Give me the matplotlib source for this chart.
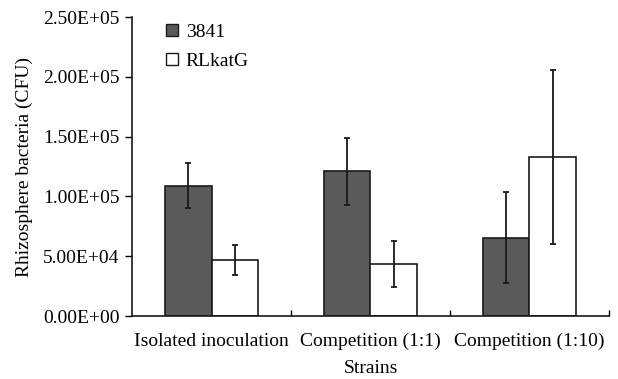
import matplotlib as mpl
from matplotlib import pyplot as plt
from matplotlib.patches import Patch
import numpy as np

groups = ['Isolated inoculation', 'Competition (1:1)', 'Competition (1:10)']
series = ['3841', 'RLkatG']
vals_3841 = [109000, 121000, 65500]
err_3841 = [19000, 28000, 38000]
vals_katg = [47000, 43500, 133000]
err_katg = [12500, 19500, 73000]
yticks = [0, 50000, 100000, 150000, 200000, 250000]
ytick_labels = ['0.00E+00', '5.00E+04', '1.00E+05', '1.50E+05', '2.00E+05', '2.50E+05']

plt.rcParams['font.family'] = ['Liberation Serif', 'DejaVu Serif']
plt.rcParams['font.size'] = 14

fig = plt.figure(figsize=(6.18, 3.79), dpi=100)
ax = fig.add_axes([0.2136, 0.1662, 0.7718, 0.7889])

x = np.arange(len(groups))
w = 0.29
ekw = dict(ecolor='#1a1a1a', elinewidth=1.3, capsize=2.3, capthick=1.3)
ax.bar(x - w / 2, vals_3841, w, color='#5a5a5a', edgecolor='#1a1a1a', linewidth=1.2,
       yerr=err_3841, error_kw=ekw, zorder=2)
ax.bar(x + w / 2, vals_katg, w, color='white', edgecolor='#1a1a1a', linewidth=1.2,
       yerr=err_katg, error_kw=ekw, zorder=2)

ax.set_xlim(-0.5, 2.5)
ax.set_ylim(0, 250000)
ax.set_yticks(yticks)
ax.set_yticklabels(ytick_labels)
ax.set_xticks(x)
ax.set_xticklabels(groups)
ax.set_xticks([0.5, 1.5, 2.5], minor=True)
ax.tick_params(axis='x', which='major', length=0, pad=12)
ax.tick_params(axis='x', which='minor', direction='in', length=4, width=1)
ax.tick_params(axis='y', direction='out', length=5, width=1, pad=4)

for s in ['top', 'right']:
    ax.spines[s].set_visible(False)
for s in ['left', 'bottom']:
    ax.spines[s].set_linewidth(1.2)
    ax.spines[s].set_color('#1a1a1a')

ax.set_xlabel('Strains', labelpad=7)
ax.set_ylabel('Rhizosphere bacteria (CFU)', labelpad=7)

handles = [Patch(facecolor='#5a5a5a', edgecolor='#1a1a1a', linewidth=1),
           Patch(facecolor='white', edgecolor='#1a1a1a', linewidth=1)]
ax.legend(handles, series, loc='upper left', bbox_to_anchor=(0.035, 1.035), frameon=False,
          handlelength=0.6, handleheight=0.6, handletextpad=0.4, labelspacing=0.6,
          fontsize=14)

fig.savefig('out.png', dpi=100)
